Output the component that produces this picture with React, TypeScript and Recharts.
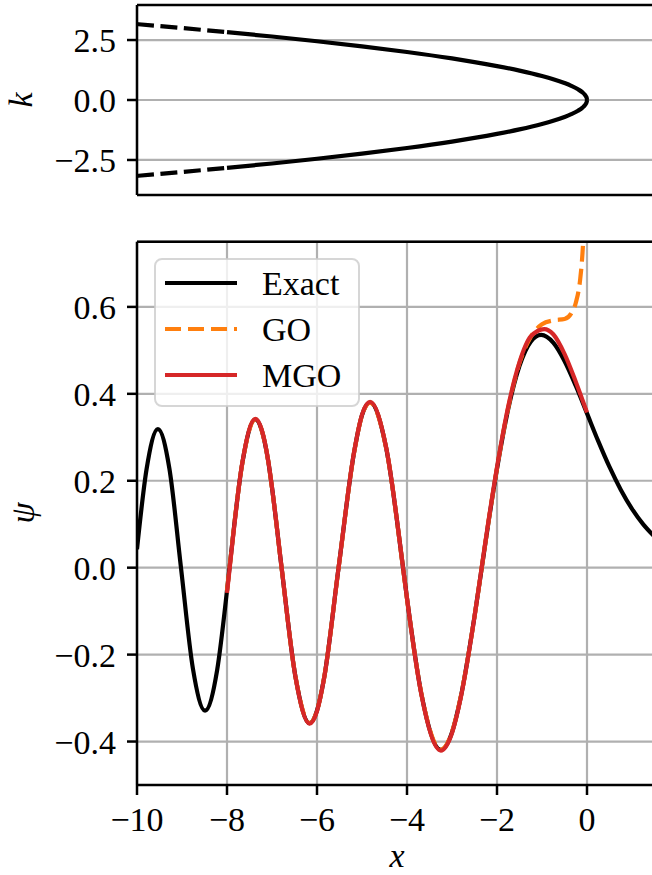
import { LineChart, Line, XAxis, YAxis, CartesianGrid, ReferenceLine } from 'recharts';

const FONT = '"Liberation Serif", "DejaVu Serif", serif';

// top panel: k branches
const kDashX = [-10, -9.5, -9, -8.5, -8];
const kDashUp = [3.162, 3.082, 3.0, 2.915, 2.828];
const kDashLo = [-3.162, -3.082, -3.0, -2.915, -2.828];
const kSolidX = [-8, -7, -6, -5, -4, -3, -2.5, -2, -1.5, -1, -0.75, -0.5, -0.35, -0.2, -0.1, -0.05, -0.02, -0.005, 0];
const kSolidUp = [2.828, 2.646, 2.449, 2.236, 2.0, 1.732, 1.581, 1.414, 1.225, 1.0, 0.866, 0.707, 0.592, 0.447, 0.316, 0.224, 0.141, 0.071, 0];
const kSolidLo = [-2.828, -2.646, -2.449, -2.236, -2.0, -1.732, -1.581, -1.414, -1.225, -1.0, -0.866, -0.707, -0.592, -0.447, -0.316, -0.224, -0.141, -0.071, 0];

// bottom panel: psi
const exactX = [-10, -9.789, -9.5355, -9.281, -9.0227, -8.758, -8.4885, -8.219, -8, -7.9441, -7.661, -7.3722, -7.083, -7, -6.7867, -6.48, -6.1633, -6, -5.847, -5.5206, -5.177, -5, -4.8201, -4.461, -4.088, -4, -3.683, -3.2482, -3, -2.811, -2.5, -2.3381, -2.2, -2, -1.75, -1.5, -1.25, -1.0188, -0.75, -0.5, -0.25, 0, 0.25, 0.5, 0.75, 1, 1.25, 1.5];
const exactPsi = [0.0424, 0.2255, 0.3189, 0.2286, 0, -0.2319, -0.3289, -0.2356, -0.0527, 0, 0.2398, 0.3414, 0.2446, 0.1842, 0, -0.2501, -0.3579, -0.3291, -0.2566, 0, 0.2645, 0.3508, 0.3804, 0.2745, 0, -0.0703, -0.289, -0.419, -0.3788, -0.3005, -0.1124, 0, 0.097, 0.2274, 0.3655, 0.4642, 0.52, 0.5357, 0.5178, 0.4757, 0.4188, 0.355, 0.2911, 0.2317, 0.1794, 0.1353, 0.0997, 0.0717];

const goX = [-8, -7.9441, -7.661, -7.3722, -7.083, -7, -6.7867, -6.48, -6.1633, -6, -5.847, -5.5206, -5.177, -5, -4.8201, -4.461, -4.088, -4, -3.683, -3.2482, -3, -2.811, -2.5, -2.3381, -2.2, -2, -1.75, -1.5, -1.25, -1, -0.75, -0.5, -0.35, -0.25, -0.15, -0.1, -0.07, -0.05];
const goPsi = [-0.0532, -0.0005, 0.2396, 0.3412, 0.2444, 0.1838, -0.0006, -0.2499, -0.3576, -0.3288, -0.2563, -0.0008, 0.2641, 0.3503, 0.3799, 0.274, -0.0012, -0.0717, -0.2884, -0.4183, -0.3778, -0.2996, -0.1128, 0.0015, 0.0985, 0.2295, 0.369, 0.471, 0.531, 0.56, 0.569, 0.572, 0.585, 0.609, 0.665, 0.724, 0.785, 0.85];

const mgoX = [-8, -7.9441, -7.661, -7.3722, -7.083, -7, -6.7867, -6.48, -6.1633, -6, -5.847, -5.5206, -5.177, -5, -4.8201, -4.461, -4.088, -4, -3.683, -3.2482, -3, -2.811, -2.5, -2.3381, -2.2, -2, -1.75, -1.5, -1.25, -0.95, -0.75, -0.5, -0.25, 0];
const mgoPsi = [-0.058, -0.004, 0.2405, 0.3422, 0.2452, 0.1846, 0.0002, -0.2508, -0.3588, -0.3299, -0.2572, -0.0003, 0.2653, 0.3518, 0.3815, 0.2754, 0.0002, -0.0706, -0.2905, -0.4208, -0.3804, -0.3018, -0.1128, 0.002, 0.1, 0.231, 0.371, 0.473, 0.532, 0.549, 0.537, 0.492, 0.428, 0.357];

const xTicks = [-10, -8, -6, -4, -2, 0];
const kTicks = [-2.5, 0, 2.5];
const psiTicks = [-0.4, -0.2, 0, 0.2, 0.4, 0.6];

const toPts = (xs: number[], ys: number[]) => xs.map((x, i) => ({ x, y: ys[i] }));
const fmt = (d: number) => (v: number) => (v < 0 ? '\u2212' : '') + Math.abs(v).toFixed(d);

const tickStyle = { fill: '#000', fontSize: 34, fontFamily: FONT };
const spine = { stroke: '#000', strokeWidth: 2.5 };
const LW = 4.2;

// grid line drawn thicker than the recharts default
const gridLine = (p: any) => (
  <line key={p.key ?? `${p.x1}-${p.y1}-${p.x2}-${p.y2}`} x1={p.x1} y1={p.y1} x2={p.x2} y2={p.y2} stroke="#b0b0b0" strokeWidth={2.2} />
);

export default function App() {
  return (
    <div style={{ position: 'absolute', left: 0, top: 0, width: 652, height: 875, overflow: 'hidden', background: '#fff' }}>
      <div style={{ position: 'absolute', left: 0, top: 0 }}>
        <LineChart width={700} height={240} margin={{ top: 5, right: 45.5, bottom: 0, left: 17 }}>
          <CartesianGrid horizontal={gridLine} vertical={gridLine} />
          <XAxis type="number" dataKey="x" domain={[-10, 1.5]} ticks={xTicks} allowDataOverflow height={45}
            tick={false} tickSize={10} axisLine={spine} tickLine={spine} />
          <YAxis type="number" dataKey="y" domain={[-3.96, 3.96]} ticks={kTicks} allowDataOverflow width={120}
            tickSize={10} tickMargin={11} tick={tickStyle} tickFormatter={fmt(1)} axisLine={spine} tickLine={spine} />
          <ReferenceLine y={3.96} stroke="#000" strokeWidth={2.5} />
          <ReferenceLine x={1.5} stroke="#000" strokeWidth={2.5} />
          <Line data={toPts(kDashX, kDashUp)} dataKey="y" stroke="#000" strokeWidth={LW} strokeDasharray="17 6.5" dot={false} type="monotoneX" isAnimationActive={false} />
          <Line data={toPts(kDashX, kDashLo)} dataKey="y" stroke="#000" strokeWidth={LW} strokeDasharray="17 6.5" dot={false} type="monotoneX" isAnimationActive={false} />
          <Line data={toPts(kSolidX, kSolidUp)} dataKey="y" stroke="#000" strokeWidth={LW} dot={false} type="monotoneX" isAnimationActive={false} />
          <Line data={toPts(kSolidX, kSolidLo)} dataKey="y" stroke="#000" strokeWidth={LW} dot={false} type="monotoneX" isAnimationActive={false} />
        </LineChart>
      </div>

      <div style={{ position: 'absolute', left: 0, top: 230 }}>
        <LineChart width={700} height={645} margin={{ top: 11.7, right: 45.5, bottom: 0, left: 17 }}>
          <CartesianGrid horizontal={gridLine} vertical={gridLine} />
          <XAxis type="number" dataKey="x" domain={[-10, 1.5]} ticks={xTicks} allowDataOverflow height={90}
            tickSize={10} tickMargin={12} tick={tickStyle} tickFormatter={fmt(0)} axisLine={spine} tickLine={spine} />
          <YAxis type="number" dataKey="y" domain={[-0.5, 0.75]} ticks={psiTicks} allowDataOverflow width={120}
            tickSize={10} tickMargin={11} tick={tickStyle} tickFormatter={fmt(1)} axisLine={spine} tickLine={spine} />
          <ReferenceLine y={0.75} stroke="#000" strokeWidth={2.5} />
          <ReferenceLine x={1.5} stroke="#000" strokeWidth={2.5} />
          <Line data={toPts(exactX, exactPsi)} dataKey="y" name="Exact" stroke="#000" strokeWidth={LW} dot={false} type="monotoneX" isAnimationActive={false} />
          <Line data={toPts(goX, goPsi)} dataKey="y" name="GO" stroke="#ff7f0e" strokeWidth={LW} strokeDasharray="16 7" dot={false} type="monotoneX" isAnimationActive={false} />
          <Line data={toPts(mgoX, mgoPsi)} dataKey="y" name="MGO" stroke="#d62728" strokeWidth={LW} dot={false} type="monotoneX" isAnimationActive={false} />
        </LineChart>
      </div>

      <svg width={652} height={875} style={{ position: 'absolute', left: 0, top: 0, pointerEvents: 'none' }}>
        <g fontFamily={FONT} fontSize={34} fontStyle="italic" fill="#000">
          <text transform="translate(20,100) rotate(-90)" textAnchor="middle" dominantBaseline="central">k</text>
          <text transform="translate(22,513) rotate(-90)" textAnchor="middle" dominantBaseline="central">ψ</text>
          <text x={397} y={867} textAnchor="middle">x</text>
        </g>
        <g transform="translate(154,258)" fontFamily={FONT} fontSize={34} fill="#000">
          <rect x={1} y={1} width={204} height={147} rx={7} fill="#fff" fillOpacity={0.8} stroke="#cccccc" strokeOpacity={0.8} strokeWidth={2} />
          <line x1={11} x2={83} y1={25} y2={25} stroke="#000" strokeWidth={LW} />
          <line x1={11} x2={83} y1={71} y2={71} stroke="#ff7f0e" strokeWidth={LW} strokeDasharray="16 7" />
          <line x1={11} x2={83} y1={117} y2={117} stroke="#d62728" strokeWidth={LW} />
          <text x={108} y={37}>Exact</text>
          <text x={108} y={83}>GO</text>
          <text x={108} y={129}>MGO</text>
        </g>
      </svg>
    </div>
  );
}
